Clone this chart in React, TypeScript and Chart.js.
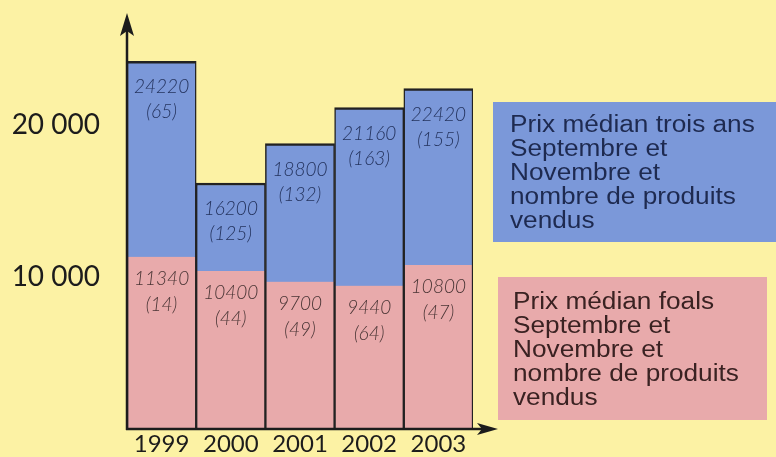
import React, { useEffect, useRef } from "react";
import { Chart, registerables } from "chart.js";

Chart.register(...registerables);

// ---- data ----
const years = ["1999", "2000", "2001", "2002", "2003"];
const troisAnsPrices = [24220, 16200, 18800, 21160, 22420];
const troisAnsCounts = [65, 125, 132, 163, 155];
const foalsPrices = [11340, 10400, 9700, 9440, 10800];
const foalsCounts = [14, 44, 49, 64, 47];
const yTickValues = [10000, 20000];
const troisAnsLegend = ["Prix médian trois ans", "Septembre et", "Novembre et", "nombre de produits", "vendus"];
const foalsLegend = ["Prix médian foals", "Septembre et", "Novembre et", "nombre de produits", "vendus"];

// ---- styles ----
const BG = "#fcf2a4";
const BLUE = "#7b98d9";
const PINK = "#e8aaab";
const INK = "#1c1c1c";
const BAR_LINE = "#222222";

const W = 776;
const H = 457;

function fmt(v: number) {
  return String(v).replace(/\B(?=(\d{3})+(?!\d))/g, " ");
}

const bgPlugin = {
  id: "bg",
  beforeDraw(chart: any) {
    const ctx = chart.ctx;
    ctx.save();
    ctx.fillStyle = BG;
    ctx.fillRect(0, 0, chart.width, chart.height);
    ctx.restore();
  },
};

const valuePlugin = {
  id: "values",
  afterDatasetsDraw(chart: any) {
    const ctx = chart.ctx;
    const pinkMeta = chart.getDatasetMeta(0);
    const blueMeta = chart.getDatasetMeta(1);
    ctx.save();
    ctx.textAlign = "center";
    ctx.textBaseline = "middle";
    ctx.font = "italic 300 19px Lato";
    blueMeta.data.forEach((el: any, i: number) => {
      ctx.fillStyle = "#24335e";
      ctx.fillText(String(troisAnsPrices[i]), el.x, el.y + 26);
      ctx.fillText("(" + troisAnsCounts[i] + ")", el.x, el.y + 51);
    });
    pinkMeta.data.forEach((el: any, i: number) => {
      ctx.fillStyle = "#4a3535";
      ctx.fillText(String(foalsPrices[i]), el.x, el.y + 22);
      ctx.fillText("(" + foalsCounts[i] + ")", el.x, el.y + 48);
    });
    ctx.restore();
  },
};

function drawLegendBox(ctx: any, x: number, y: number, w: number, h: number, fill: string, color: string, lines: string[], tx: number, ty: number) {
  ctx.fillStyle = fill;
  ctx.fillRect(x, y, w, h);
  ctx.fillStyle = color;
  ctx.font = "23px 'Liberation Sans', Arial, sans-serif";
  ctx.textAlign = "left";
  ctx.textBaseline = "alphabetic";
  lines.forEach((line, i) => {
    ctx.save();
    ctx.translate(tx, ty + i * 24);
    ctx.scale(1.14, 1);
    ctx.fillText(line, 0, 0);
    ctx.restore();
  });
}

const axesPlugin = {
  id: "axesArrows",
  afterDraw(chart: any) {
    const ctx = chart.ctx;
    const { left, bottom } = chart.chartArea;
    ctx.save();
    ctx.strokeStyle = INK;
    ctx.fillStyle = INK;
    ctx.lineWidth = 2.5;
    // y axis
    ctx.beginPath();
    ctx.moveTo(left, bottom + 1);
    ctx.lineTo(left, 30);
    ctx.stroke();
    ctx.beginPath();
    ctx.moveTo(left, 13);
    ctx.lineTo(left + 7, 36);
    ctx.lineTo(left, 31);
    ctx.lineTo(left - 7, 36);
    ctx.closePath();
    ctx.fill();
    // x axis
    ctx.beginPath();
    ctx.moveTo(left - 1, bottom);
    ctx.lineTo(485, bottom);
    ctx.stroke();
    ctx.beginPath();
    ctx.moveTo(498, bottom);
    ctx.lineTo(477, bottom - 6);
    ctx.lineTo(482, bottom);
    ctx.lineTo(477, bottom + 6);
    ctx.closePath();
    ctx.fill();

    // legend boxes
    drawLegendBox(ctx, 493, 102, 283, 140, BLUE, "#1e2a50", troisAnsLegend, 510, 132);
    drawLegendBox(ctx, 498, 277, 269, 143, PINK, "#3a2222", foalsLegend, 513, 309);
    ctx.restore();
  },
};

export default function App() {
  const ref = useRef<HTMLCanvasElement | null>(null);

  useEffect(() => {
    document.body.style.margin = "0";
    document.body.style.background = BG;
    const canvas = ref.current;
    if (!canvas) return;
    const chart = new Chart(canvas, {
      type: "bar",
      data: {
        labels: years,
        datasets: [
          {
            label: foalsLegend.join(" "),
            data: foalsPrices,
            backgroundColor: PINK,
            borderColor: BAR_LINE,
            borderWidth: { top: 0, left: 1.5, right: 1.5, bottom: 0 },
            borderSkipped: false,
            order: 0,
          },
          {
            label: troisAnsLegend.join(" "),
            data: troisAnsPrices,
            backgroundColor: BLUE,
            borderColor: BAR_LINE,
            borderWidth: { top: 2.5, left: 1.5, right: 1.5, bottom: 0 },
            borderSkipped: false,
            order: 1,
          },
        ],
      },
      options: {
        responsive: false,
        animation: false,
        devicePixelRatio: 1,
        layout: { padding: { top: 19, right: W - 473, left: 0, bottom: 0 } },
        datasets: {
          bar: { grouped: false, barPercentage: 1, categoryPercentage: 1 },
        },
        plugins: {
          legend: { display: false },
          tooltip: { enabled: false },
          title: { display: false },
        },
        scales: {
          x: {
            type: "category",
            grid: { display: false, drawTicks: false },
            border: { display: false },
            ticks: {
              color: INK,
              font: { family: "Lato", size: 24 },
              padding: 1,
              maxRotation: 0,
            },
            afterFit: (s: any) => {
              s.height = H - 429;
              s.paddingLeft = 0;
              s.paddingRight = 0;
            },
          },
          y: {
            type: "linear",
            min: 0,
            max: 27000,
            grid: { display: false, drawTicks: false },
            border: { display: false },
            afterBuildTicks: (s: any) => {
              s.ticks = yTickValues.map((v) => ({ value: v }));
            },
            ticks: {
              color: INK,
              font: { family: "Lato", size: 28 },
              padding: 27,
              callback: (v: any) => fmt(Number(v)),
            },
            afterFit: (s: any) => {
              s.width = 127;
              s.paddingTop = 0;
              s.paddingBottom = 0;
            },
          },
        },
      },
      plugins: [bgPlugin, valuePlugin, axesPlugin],
    } as any);
    return () => chart.destroy();
  }, []);

  return (
    <div style={{ position: "fixed", left: 0, top: 0, width: W, height: H, background: BG }}>
      <canvas ref={ref} width={W} height={H} style={{ display: "block", width: W, height: H }} />
    </div>
  );
}
